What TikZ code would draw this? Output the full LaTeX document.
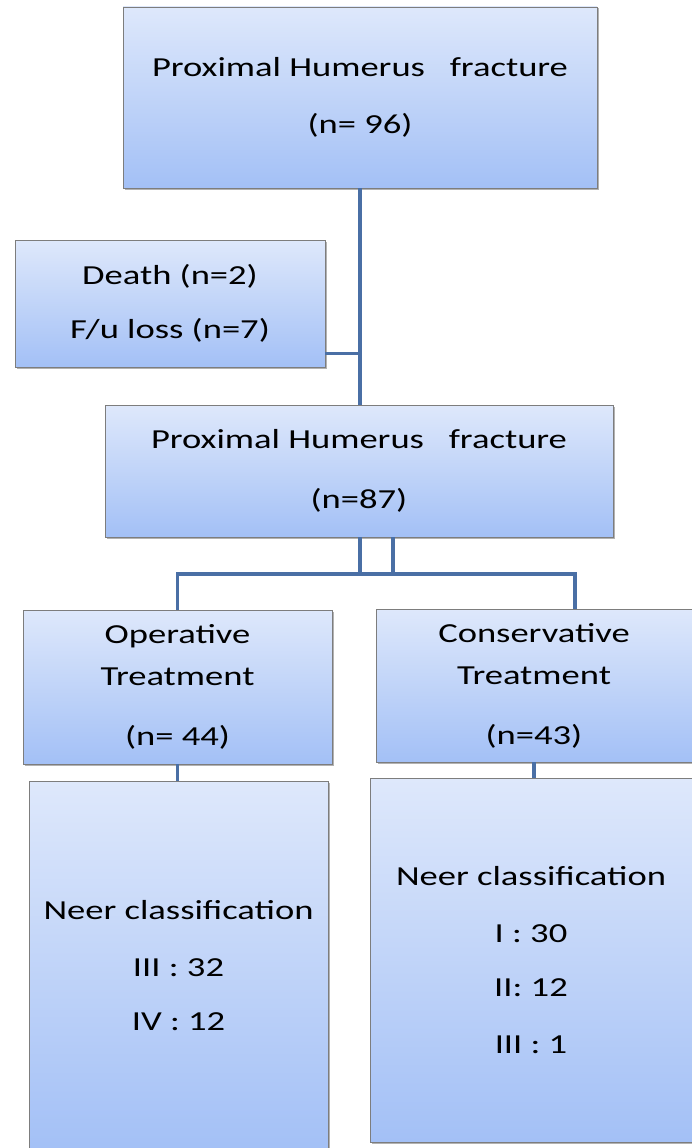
\documentclass[tikz,border=0pt]{standalone}
\usepackage{fontspec}
\setmainfont{Carlito}[FakeStretch=1.33]
\usetikzlibrary{shadows}
\definecolor{boxtop}{RGB}{222,232,251}
\definecolor{boxbot}{RGB}{163,192,246}
\definecolor{boxedge}{RGB}{125,125,125}
\definecolor{linkblue}{RGB}{74,111,165}

\begin{document}
\begin{tikzpicture}[x=1pt,y=-1pt,
    box/.style={draw=boxedge,line width=0.8pt,top color=boxtop,bottom color=boxbot,
      drop shadow={shadow xshift=1.5pt,shadow yshift=-1.5pt,opacity=0.3,fill=black},
      inner sep=0pt,align=center,font=\fontsize{27.5}{57}\selectfont},
    link/.style={draw=linkblue,line width=3.5pt}]
    \useasboundingbox (0,0) rectangle (691,1148);
    \node[box,minimum width=474pt,minimum height=181pt] (top) at (360,97.5) {Proximal Humerus\ \ \ fracture\\(n= 96)};
    \node[box,minimum width=310pt,minimum height=127pt] (loss) at (170,303.5) {Death (n=2)\\[-3pt]F/u loss (n=7)};
    \node[box,minimum width=508pt,minimum height=132pt] (mid) at (359,471) {Proximal Humerus\ \ \ fracture\\[3pt](n=87)};
    \node[box,minimum width=309pt,minimum height=154pt] (op) at (177.5,687) {Operative\\[-15pt]Treatment\\[3pt](n= 44)};
    \node[box,minimum width=316pt,minimum height=153pt] (con) at (534,685.5) {Conservative\\[-15pt]Treatment\\[3pt](n=43)};
    \node[box,minimum width=299pt,minimum height=370pt] (neerop) at (178.5,966) {Neer classification\\III : 32\\[-3pt]IV : 12};
    \node[box,minimum width=322pt,minimum height=364pt] (neercon) at (531,960) {Neer classification\\I : 30\\[-3pt]II: 12\\III : 1};
    \coordinate (lossjoin) at ([yshift=14pt]loss.south east);
    \coordinate (bus) at (0,574);
    \coordinate (conin) at ([xshift=41pt]con.north);
    \draw[link] (top.south) -- (top.south |- mid.north);
    \draw[link] (lossjoin) -- (lossjoin -| top.south);
    \draw[link] ([xshift=34pt]mid.south) |- (op.north |- bus) -- (op.north);
    \draw[link] ([xshift=1pt]mid.south) |- (conin |- bus) -- (conin);
    \draw[link] (op.south) -- (op.south |- neerop.north);
    \draw[link] (con.south) -- (con.south |- neercon.north);
\end{tikzpicture}
\end{document}
